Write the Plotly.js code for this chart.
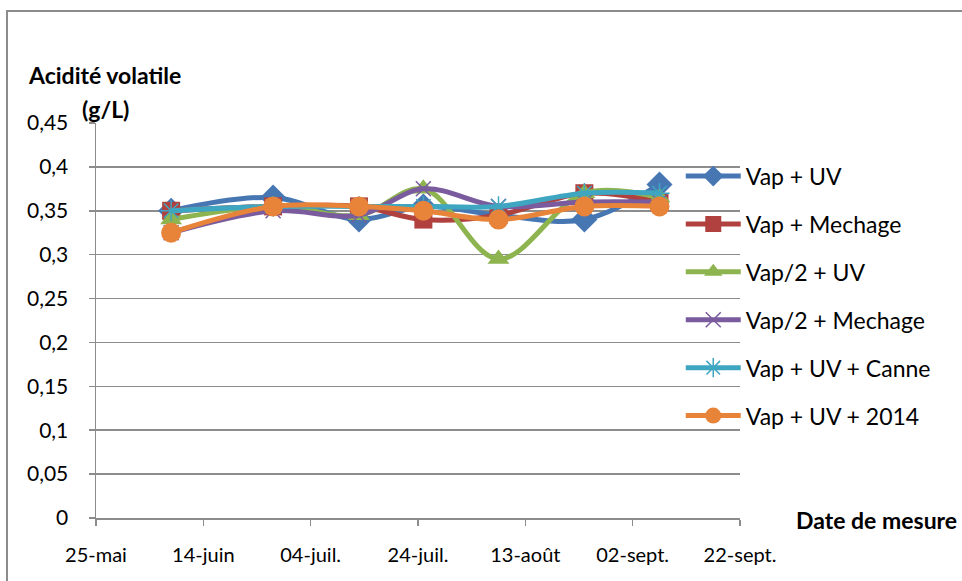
<!DOCTYPE html>
<html>
<head>
<meta charset="utf-8">
<script src="https://cdn.plot.ly/plotly-3.0.1.min.js"></script>
<style>
  html, body { margin: 0; padding: 0; background: #fff; overflow: hidden; }
  #chart { position: absolute; left: 0; top: 0; width: 962px; height: 581px; }
  #frame { position: absolute; left: 6px; top: 10px; width: 1000px; height: 700px;
           border-left: 2px solid #8c8c8c; border-top: 2px solid #8c8c8c; pointer-events: none; z-index: 5; }
</style>
</head>
<body>
<div id="chart"></div>
<div id="frame"></div>
<script>
// Dates of measurement
const dates = ['2015-06-08', '2015-06-27', '2015-07-13', '2015-07-25', '2015-08-08', '2015-08-24', '2015-09-07'];

// Series (g/L)
const seriesNames = ['Vap + UV', 'Vap + Mechage', 'Vap/2 + UV', 'Vap/2 + Mechage', 'Vap + UV + Canne', 'Vap + UV + 2014'];
const vapUV        = [0.35, 0.365, 0.34, 0.355, 0.345, 0.34, 0.38];
const vapMechage   = [0.35, 0.355, 0.355, 0.34, 0.345, 0.37, 0.36];
const vap2UV       = [0.34, 0.355, 0.345, 0.375, 0.295, 0.37, 0.365];
const vap2Mechage  = [0.325, 0.35, 0.345, 0.375, 0.355, 0.36, 0.36];
const vapUVCanne   = [0.35, 0.355, 0.355, 0.355, 0.355, 0.37, 0.37];
const vapUV2014    = [0.325, 0.355, 0.355, 0.35, 0.34, 0.355, 0.355];

// Axis ticks
const xTickVals = ['2015-05-25', '2015-06-14', '2015-07-04', '2015-07-24', '2015-08-13', '2015-09-02', '2015-09-22'];
const xTickText = ['25-mai', '14-juin', '04-juil.', '24-juil.', '13-août', '02-sept.', '22-sept.'];
const yTickVals = [0, 0.05, 0.1, 0.15, 0.2, 0.25, 0.3, 0.35, 0.4, 0.45];
const yTickText = ['0', '0,05', '0,1', '0,15', '0,2', '0,25', '0,3', '0,35', '0,4', '0,45'];

const allValues = [vapUV, vapMechage, vap2UV, vap2Mechage, vapUVCanne, vapUV2014];
const colors = ['#4677b3', '#b0413e', '#8db44e', '#7a5c9e', '#3fa6c1', '#e8833a'];
const symbols = ['diamond', 'square', 'triangle-up', 'x-thin-open', 'asterisk-open', 'circle'];
const sizes = [20, 18, 19, 15, 17, 20];

const traces = allValues.map((vals, i) => ({
  type: 'scatter',
  mode: 'lines+markers',
  name: seriesNames[i],
  legendgroup: 'g' + i,
  x: dates,
  y: vals,
  line: { color: colors[i], width: 5, shape: 'spline', smoothing: 1 },
  marker: { symbol: symbols[i], size: sizes[i], color: colors[i],
            line: { color: colors[i], width: (i === 3 || i === 4) ? 1.5 : 0 } }
}));

const font = 'Lato, "Open Sans", sans-serif';

const layout = {
  width: 962, height: 581,
  margin: { l: 96, r: 222, t: 123, b: 63 },
  paper_bgcolor: 'rgba(0,0,0,0)',
  plot_bgcolor: '#fff',
  font: { family: font, size: 20, color: '#000' },
  showlegend: true,
  legend: {
    x: 0.908, xanchor: 'left', y: 0.92, yanchor: 'top',
    font: { family: font, size: 23, color: '#000' },
    tracegroupgap: 15, itemwidth: 55, bgcolor: 'rgba(0,0,0,0)'
  },
  xaxis: {
    type: 'date',
    range: ['2015-05-25', '2015-09-22'],
    tickvals: xTickVals, ticktext: xTickText,
    ticks: 'outside', ticklen: 6, tickcolor: '#8c8c8c', tickwidth: 1.5,
    showline: true, linecolor: '#8c8c8c', linewidth: 1.5,
    showgrid: false, zeroline: false,
    ticklabelstandoff: 12,
    tickfont: { family: font, size: 20, color: '#000' }
  },
  yaxis: {
    range: [0, 0.45],
    tickvals: yTickVals, ticktext: yTickText,
    ticks: 'outside', ticklen: 6, tickcolor: '#8c8c8c', tickwidth: 1.5,
    showline: true, linecolor: '#8c8c8c', linewidth: 1.5,
    showgrid: true, gridcolor: '#8c8c8c', gridwidth: 1.5,
    zeroline: false, ticklabelstandoff: 16,
    tickfont: { family: font, size: 21, color: '#000' }
  },
  annotations: [
    { text: '<b>Acidité volatile</b>', xref: 'paper', yref: 'paper',
      x: (104 - 96) / 644, y: (518.3 - 75) / 395.6, xanchor: 'center', yanchor: 'middle',
      showarrow: false, font: { family: font, size: 23, color: '#000' } },
    { text: '<b>(g/L)</b>', xref: 'paper', yref: 'paper',
      x: (105 - 96) / 644, y: (518.3 - 109) / 395.6, xanchor: 'center', yanchor: 'middle',
      showarrow: false, font: { family: font, size: 23, color: '#000' } },
    { text: '<b>Date de mesure</b>', xref: 'paper', yref: 'paper',
      x: (959 - 96) / 644, y: (518.3 - 520) / 395.6, xanchor: 'right', yanchor: 'middle',
      showarrow: false, font: { family: font, size: 23, color: '#000' } }
  ]
};

Plotly.newPlot('chart', traces, layout, { displayModeBar: false, staticPlot: true });
</script>
</body>
</html>
